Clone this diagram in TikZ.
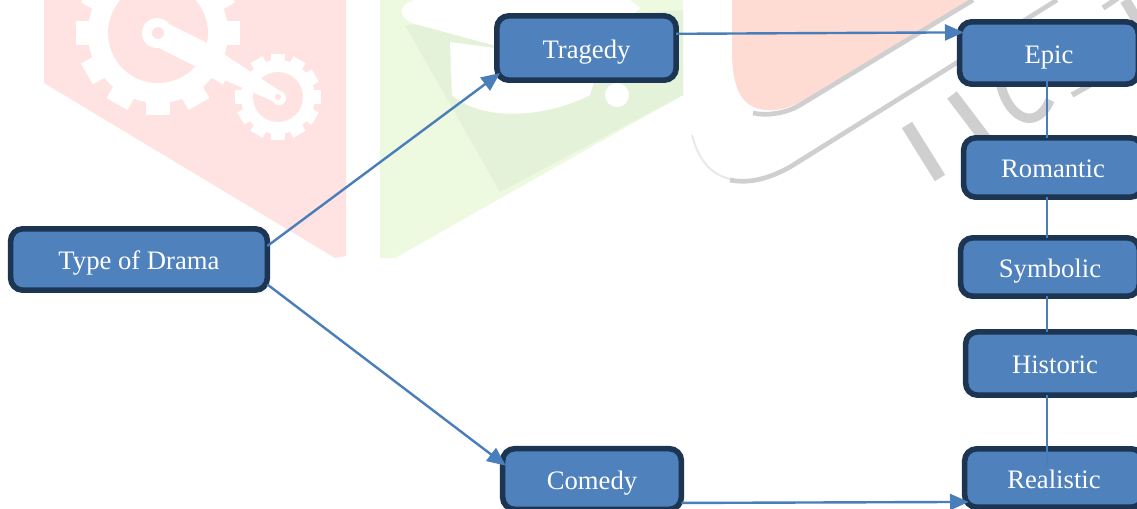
\documentclass[tikz,border=0pt]{standalone}
\usepackage{fontspec}
\setmainfont{Liberation Serif}
\usetikzlibrary{arrows.meta,calc}
\definecolor{boxfill}{HTML}{4F81BD}
\definecolor{boxedge}{HTML}{1C3553}
\definecolor{linkblue}{HTML}{4A7EBB}
\definecolor{markred}{HTML}{FFE3E3}
\definecolor{markgreen}{HTML}{EEFAE0}
\definecolor{markolive}{HTML}{E5F2DA}
\definecolor{markorange}{HTML}{FFDCD3}
\definecolor{markgray}{HTML}{CFCFCF}
\begin{document}
\begin{tikzpicture}[x=0.75pt,y=-0.75pt,
    dramabox/.style={draw=boxedge,fill=boxfill,line width=4.2pt,rounded corners=9pt,outer sep=0pt,
      text=white,font=\fontsize{20}{24}\selectfont,text height=18pt,text depth=3pt,inner sep=0pt},
    linkarrow/.style={draw=linkblue,line width=1.8pt,-{Triangle[length=14pt,width=12pt]},shorten >=-3pt},
    linkline/.style={draw=linkblue,line width=1.5pt}]
  \clip (0,0) rectangle (1137,508);
  \fill[white] (0,0) rectangle (1137,508);
  % faint marks behind the chart
  \fill[markred] (44,0) -- (44,83) -- (335,258) -- (346,256) -- (346,0) -- cycle;
  \foreach \a in {0,30,...,330} {
    \fill[white,rotate around={\a:(158,33)}] (146,-49) rectangle (170,33);
  }
  \fill[white] (158,33) circle (70);
  \fill[markred] (158,33) circle (50);
  \foreach \a in {0,30,...,330} {
    \fill[white,rotate around={\a:(278,97)}] (271,54) rectangle (285,97);
  }
  \fill[white] (278,97) circle (37);
  \fill[markred] (278,97) circle (25);
  \fill[white] (167,23) -- (207,43) -- (283,93) -- (277,103) -- (213,75) -- (147,42) -- cycle;
  \fill[white] (157,33) circle (15);
  \fill[white] (279,98) circle (7);
  \fill[markred] (158,33) circle (6);
  \fill[markred] (278,97) circle (3);
  \fill[markgreen] (380,0) -- (380,258) -- (395,258) -- (683,95) -- (683,0) -- cycle;
  \fill[markolive] (405,25) -- (500,192) -- (683,95) -- (683,10) -- cycle;
  \fill[white] (415,0) .. controls (395,5) and (400,20) .. (415,24) -- (500,47) -- (600,47) -- (640,8) -- (630,0) -- cycle;
  \fill[white] (450,42) -- (600,62) -- (590,95) .. controls (540,120) and (480,120) .. (452,95) -- cycle;
  \fill[white] (617,95) circle (12);
  \fill[markorange] (732,0) -- (732,55) .. controls (733,95) and (745,112) .. (775,110) .. controls (800,108) and (830,85) .. (973,0) -- cycle;
  \draw[markgray,line width=3.5pt] (753,113) .. controls (765,116) and (785,114) .. (800,105) -- (973,0);
  \draw[markgray!45,line width=1.5pt] (692,135) .. controls (700,165) and (715,180) .. (745,181);
  \draw[markgray,line width=3.5pt] (730,180) .. controls (750,184) and (770,178) .. (790,167) -- (1057,0);
  \draw[markgray,line width=9pt] (907,125) -- (940,178);
  \draw[markgray,line width=9pt] (952,95) -- (990,145);
  \draw[markgray,line width=7pt] (1000,80) .. controls (1005,115) and (1035,135) .. (1050,100);
  \draw[markgray,line width=4pt] (1072,95) -- (1090,85);
  \draw[markgray,line width=4pt] (1103,8) -- (1118,-2);
  \draw[markgray,line width=8pt] (1125,0) -- (1140,25);
  % chart
  \node[dramabox,minimum width=192.5pt,minimum height=46pt] (drama) at (139,259.5) {Type of Drama};
  \node[dramabox,minimum width=134.5pt,minimum height=48.25pt] (tragedy) at (586.5,48) {Tragedy};
  \node[dramabox,minimum width=134pt,minimum height=45.5pt] (comedy) at (592,479) {Comedy};
  \node[dramabox,minimum width=134pt,minimum height=46.75pt] (epic) at (1049,53) {Epic};
  \node[dramabox,minimum width=134pt,minimum height=44.5pt] (romantic) at (1053,167.5) {Romantic};
  \node[dramabox,minimum width=134pt,minimum height=43.75pt] (symbolic) at (1050,267) {Symbolic};
  \node[dramabox,minimum width=134pt,minimum height=47.5pt] (historic) at (1055,363.5) {Historic};
  \node[dramabox,minimum width=134pt,minimum height=43.75pt] (realistic) at (1054,478) {Realistic};
  \coordinate (spine) at (1047,0);
  \draw[linkarrow] (drama.6) -- (tragedy.197.6);
  \draw[linkarrow] (drama.-11) -- (comedy.170);
  \draw[linkarrow] (tragedy.9.5) -- (epic.167.4);
  \draw[linkarrow] (comedy.-15.6) -- (realistic.195.6);
  \draw[linkline] ($(epic.south -| spine)+(0,-5)$) -- (romantic.north -| spine);
  \draw[linkline] (romantic.south -| spine) -- (symbolic.north -| spine);
  \draw[linkline] (symbolic.south -| spine) -- (historic.north -| spine);
  \draw[linkline] (historic.south -| spine) -- ($(realistic.north -| spine)+(0,17)$);
\end{tikzpicture}
\end{document}
